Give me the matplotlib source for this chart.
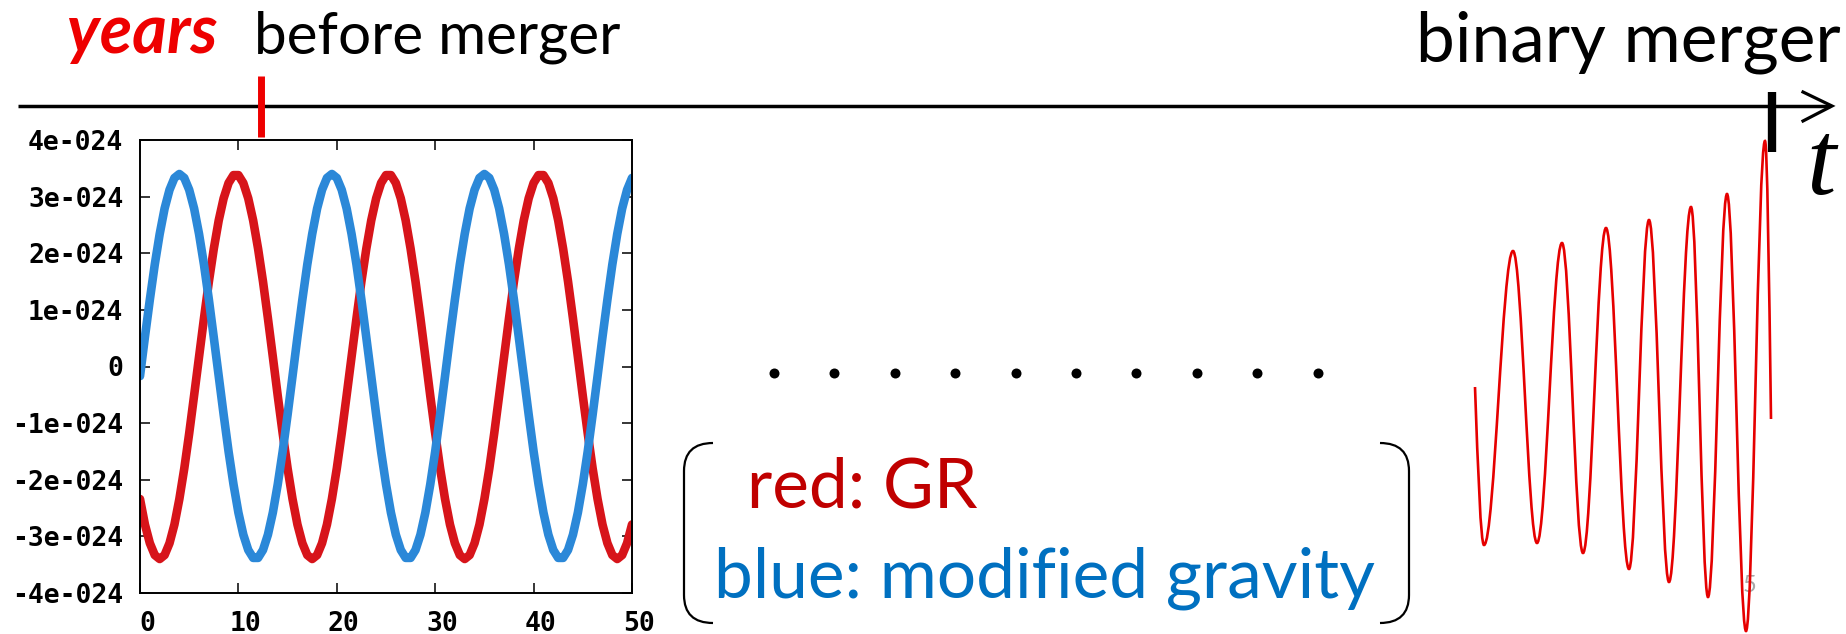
import numpy as np
import matplotlib
matplotlib.use('Agg')
import matplotlib.pyplot as plt
import matplotlib.transforms as mtransforms
from matplotlib.path import Path
from matplotlib.patches import PathPatch

W, H = 1846, 634  # output size in pixels (dpi 100)

# gnuplot panel: strain in units of 1e-24, read every half year from 0 to 50
years = np.arange(0, 101) * 0.5
gr_strain = [-2.34, -2.79, -3.12, -3.33, -3.40, -3.33, -3.12, -2.79, -2.34, -1.80,
             -1.18, -0.51, 0.17, 0.85, 1.50, 2.08, 2.58, 2.97, 3.24, 3.38,
             3.38, 3.24, 2.97, 2.58, 2.08, 1.50, 0.85, 0.17, -0.52, -1.18,
             -1.80, -2.34, -2.79, -3.12, -3.33, -3.40, -3.33, -3.12, -2.79, -2.34,
             -1.80, -1.18, -0.51, 0.17, 0.85, 1.50, 2.08, 2.58, 2.97, 3.24,
             3.38, 3.38, 3.24, 2.97, 2.58, 2.08, 1.50, 0.85, 0.17, -0.52,
             -1.18, -1.80, -2.34, -2.79, -3.12, -3.33, -3.40, -3.33, -3.12, -2.79,
             -2.34, -1.80, -1.18, -0.51, 0.17, 0.85, 1.50, 2.08, 2.58, 2.97,
             3.24, 3.38, 3.38, 3.24, 2.97, 2.58, 2.08, 1.50, 0.85, 0.17,
             -0.52, -1.18, -1.80, -2.34, -2.79, -3.12, -3.33, -3.40, -3.33, -3.12,
             -2.79]
mg_strain = [-0.17, 0.52, 1.18, 1.80, 2.34, 2.79, 3.12, 3.33, 3.40, 3.33,
             3.12, 2.79, 2.34, 1.80, 1.18, 0.51, -0.17, -0.85, -1.50, -2.08,
             -2.58, -2.97, -3.24, -3.38, -3.38, -3.24, -2.97, -2.58, -2.08, -1.50,
             -0.85, -0.17, 0.52, 1.18, 1.80, 2.34, 2.79, 3.12, 3.33, 3.40,
             3.33, 3.12, 2.79, 2.34, 1.80, 1.18, 0.51, -0.17, -0.85, -1.50,
             -2.08, -2.58, -2.97, -3.24, -3.38, -3.38, -3.24, -2.97, -2.58, -2.08,
             -1.50, -0.85, -0.17, 0.52, 1.18, 1.80, 2.34, 2.79, 3.12, 3.33,
             3.40, 3.33, 3.12, 2.79, 2.34, 1.80, 1.18, 0.51, -0.17, -0.85,
             -1.50, -2.08, -2.58, -2.97, -3.24, -3.38, -3.38, -3.24, -2.97, -2.58,
             -2.08, -1.50, -0.85, -0.17, 0.52, 1.18, 1.80, 2.34, 2.79, 3.12,
             3.33]
xtick_vals = [0, 10, 20, 30, 40, 50]
ytick_vals = [-4, -3, -2, -1, 0, 1, 2, 3, 4]
ytick_labels = ['-4e-024', '-3e-024', '-2e-024', '-1e-024', '0',
                '1e-024', '2e-024', '3e-024', '4e-024']

# merger waveform sketch: turning points (arbitrary time / strain units)
chirp_t = [5, 14, 43, 67, 92, 113, 136, 159, 179, 199, 221, 238, 257, 276, 295, 301]
chirp_h = [0.03, -1.55, 1.39, -1.53, 1.47, -1.63, 1.62, -1.79, 1.70, -1.92,
           1.83, -2.07, 1.96, -2.41, 2.49, -0.29]

n_dots = 10
label_gr = 'red: GR'
label_mg = 'blue: modified gravity'

RED_GP = '#d7141a'
BLUE_GP = '#2b88d8'
RED_TXT = '#c00000'
BLUE_TXT = '#0070c0'
RED_HI = '#ee0000'

fig = plt.figure(figsize=(W / 100, H / 100), dpi=100)

# overlay in pixel coordinates for the slide annotations
ax0 = fig.add_axes([0, 0, 1, 1])
ax0.set_xlim(0, W)
ax0.set_ylim(H, 0)
ax0.axis('off')

# time axis with arrow
ax0.plot([18, 1830], [106, 106], color='black', lw=2.5, solid_capstyle='butt')
ax0.plot([1803, 1832, 1803], [92, 106, 121], color='black', lw=2.3,
         solid_joinstyle='miter')
ax0.plot([261, 261], [76, 137], color=RED_HI, lw=5, solid_capstyle='butt')
ax0.plot([1772, 1772], [92, 152], color='black', lw=6, solid_capstyle='butt')

ax0.text(67, 53, 'years', fontsize=48, family='Lato', weight='bold',
         style='italic', color=RED_HI, va='baseline')
ax0.text(254, 53, 'before merger', fontsize=42, family='Lato', va='baseline')
ax0.text(1841, 61, 'binary merger', fontsize=50, family='Lato', va='baseline',
         ha='right')
ax0.text(1806, 194, 't', fontsize=76, family='Liberation Serif', style='italic',
         va='baseline')

# dotted gap
ax0.plot(774 + 60.4 * np.arange(n_dots), [373] * n_dots, 'o', color='black',
         ms=7.2, mec='none')

# round brackets around the legend
r = 28
for xb, xe in [(684, 713), (1409, 1380)]:
    verts = [(xe, 443), (xb, 443), (xb, 443 + r), (xb, 623 - r), (xb, 623), (xe, 623)]
    codes = [Path.MOVETO, Path.CURVE3, Path.CURVE3, Path.LINETO, Path.CURVE3, Path.CURVE3]
    ax0.add_patch(PathPatch(Path(verts, codes), fill=False, lw=1.6, color='black'))

ax0.text(747, 508, label_gr, fontsize=50, family='Lato', color=RED_TXT, va='baseline')
ax0.text(714, 597, label_mg, fontsize=50, family='Lato', color=BLUE_TXT, va='baseline')
ax0.text(1743, 592, '5', fontsize=17, family='Lato', color='#a8a8a8', va='baseline')

# gnuplot-like panel
ax = fig.add_axes([140 / W, (H - 593) / H, 492 / W, 453 / H])
ax.plot(years, gr_strain, color=RED_GP, lw=6.2, solid_capstyle='round')
ax.plot(years, mg_strain, color=BLUE_GP, lw=6.2, solid_capstyle='round')
ax.set_xlim(0, 50)
ax.set_ylim(-4, 4)
ax.set_xticks(xtick_vals)
ax.set_yticks(ytick_vals)
ax.set_yticklabels(ytick_labels)
ax.tick_params(direction='in', length=7, width=1.1, top=True, right=True)
ax.tick_params(axis='y', pad=12)
ax.tick_params(axis='x', pad=13)
for lab in ax.get_xticklabels() + ax.get_yticklabels():
    lab.set_family('DejaVu Sans Mono')
    lab.set_weight('bold')
    lab.set_fontsize(19)
shift = mtransforms.ScaledTranslation(7 / 100, 0, fig.dpi_scale_trans)
for lab in ax.get_xticklabels():
    lab.set_transform(lab.get_transform() + shift)
for s in ax.spines.values():
    s.set_linewidth(1.4)

# chirp sketched as smooth segments between turning points
axc = fig.add_axes([1470 / W, 0, 310 / W, (H - 130) / H])
axc.set_xlim(0, 310)
axc.set_ylim(-2.44, 2.6)
axc.axis('off')
verts = [(chirp_t[0], chirp_h[0])]
codes = [Path.MOVETO]
n = len(chirp_t)
for i in range(n - 1):
    x0, y0 = chirp_t[i], chirp_h[i]
    x1, y1 = chirp_t[i + 1], chirp_h[i + 1]
    dx = x1 - x0
    if i == 0:
        c1 = (x0 + dx / 3, y0 + (y1 - y0) * np.pi / 6)
    else:
        c1 = (x0 + 0.364 * dx, y0)
    if i == n - 2:
        c2 = (x1 - dx / 3, y1 - (y1 - y0) * np.pi / 6)
    else:
        c2 = (x1 - 0.364 * dx, y1)
    verts += [c1, c2, (x1, y1)]
    codes += [Path.CURVE4] * 3
axc.add_patch(PathPatch(Path(verts, codes), fill=False, lw=1.9, color='#e60000',
                        clip_on=False))

fig.savefig('out.png', dpi=100)
